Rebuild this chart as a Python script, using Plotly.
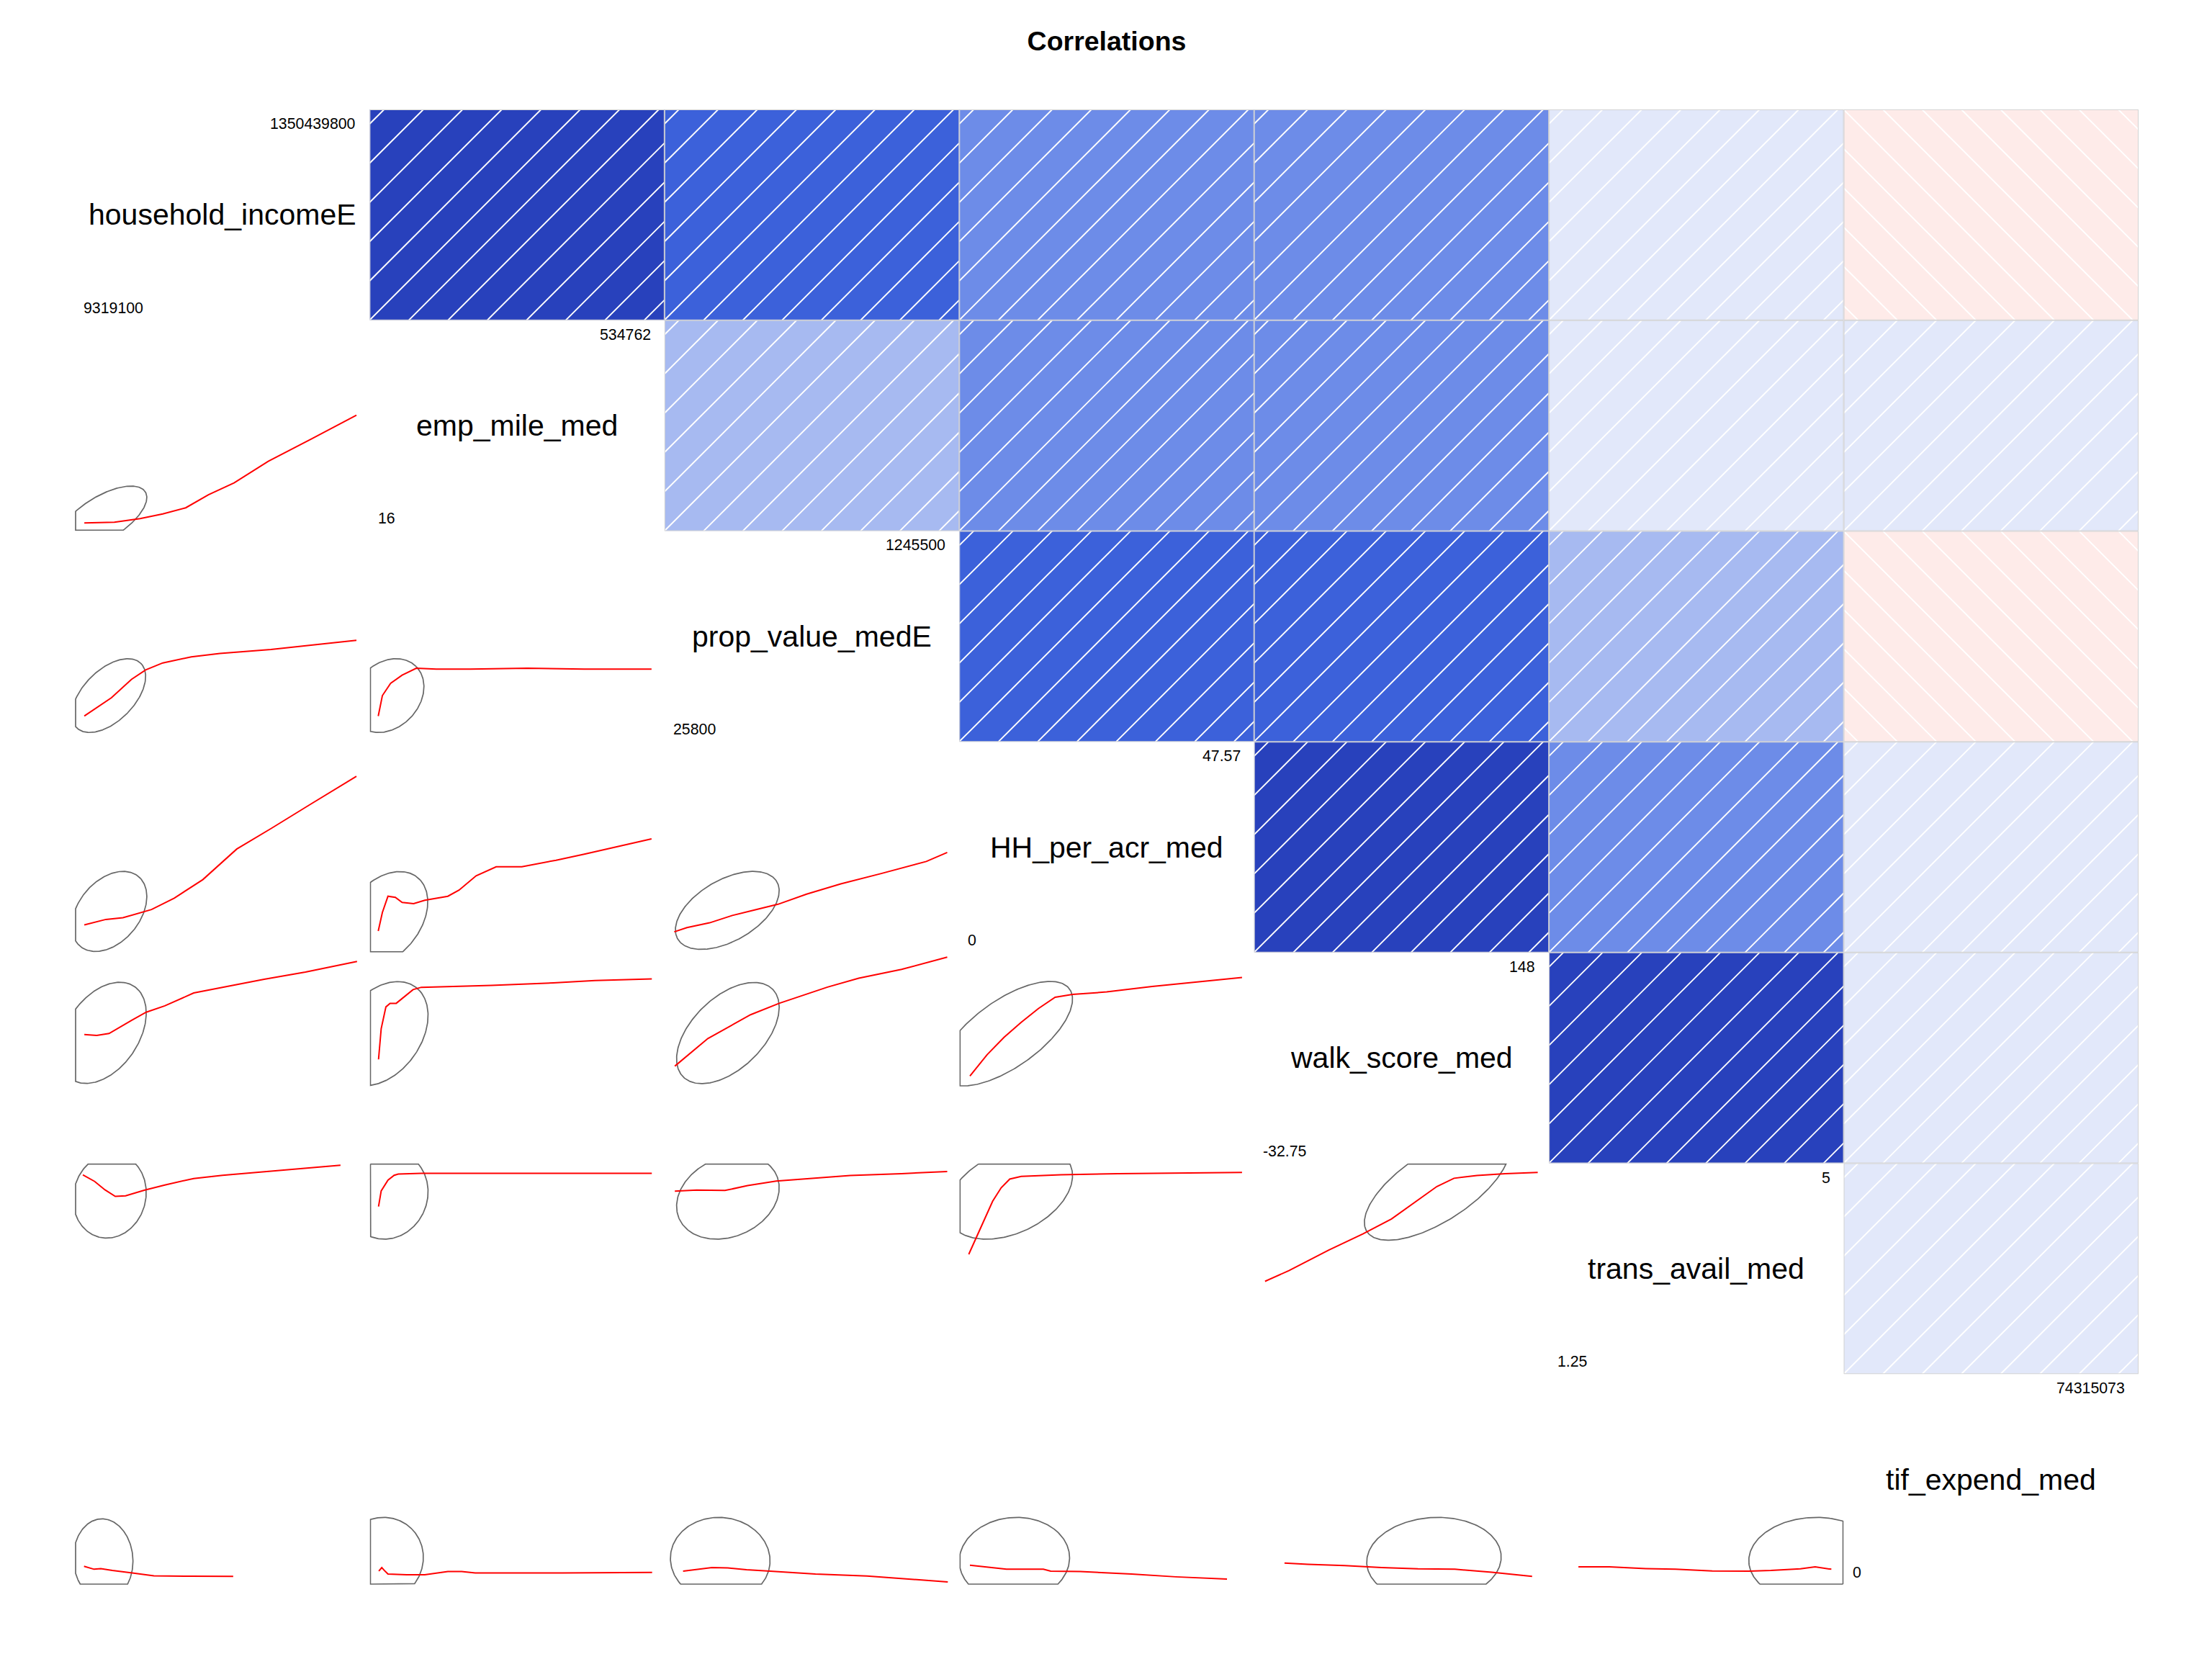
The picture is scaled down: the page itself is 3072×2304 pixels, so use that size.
import numpy as np
import plotly.graph_objects as go
from plotly.subplots import make_subplots

# ---------------- data ----------------
variables = ["household_incomeE", "emp_mile_med", "prop_value_medE", "HH_per_acr_med",
             "walk_score_med", "trans_avail_med", "tif_expend_med"]
var_max = ["1350439800", "534762", "1245500", "47.57", "148", "5", "74315073"]
var_min = ["9319100", "16", "25800", "0", "-32.75", "1.25", "0"]

# upper-triangle correlations (row i with columns i+1..7)
corr_row1 = [0.64, 0.52, 0.37, 0.39, 0.08, -0.04]
corr_row2 = [0.24, 0.36, 0.35, 0.07, 0.05]
corr_row3 = [0.50, 0.51, 0.22, -0.03]
corr_row4 = [0.66, 0.37, 0.04]
corr_row5 = [0.67, 0.06]
corr_row6 = [0.03]

# lower panels (row, col) in scaled panel units: data ellipse centre / spread
lower_panels = [(2, 1), (3, 1), (3, 2), (4, 1), (4, 2), (4, 3), (5, 1), (5, 2), (5, 3), (5, 4),
                (6, 1), (6, 2), (6, 3), (6, 4), (6, 5), (7, 1), (7, 2), (7, 3), (7, 4), (7, 5), (7, 6)]
ell_cx = [0.095, 0.115, 0.060, 0.117, 0.049, 0.213, 0.095, 0.040, 0.215, 0.161,
          0.118, 0.059, 0.215, 0.171, 0.620, 0.096, 0.040, 0.189, 0.187, 0.610, 0.900]
ell_cy = [0.062, 0.219, 0.219, 0.195, 0.159, 0.200, 0.619, 0.615, 0.618, 0.615,
          0.845, 0.850, 0.840, 0.860, 0.891, 0.120, 0.120, 0.120, 0.120, 0.120, 0.120]
ell_sx = [0.149, 0.125, 0.124, 0.127, 0.148, 0.176, 0.147, 0.158, 0.174, 0.223,
          0.124, 0.139, 0.174, 0.213, 0.246, 0.101, 0.142, 0.169, 0.187, 0.228, 0.222]
ell_sy = [0.151, 0.175, 0.175, 0.190, 0.225, 0.185, 0.240, 0.247, 0.240, 0.248,
          0.200, 0.210, 0.200, 0.220, 0.256, 0.193, 0.200, 0.200, 0.200, 0.200, 0.200]

# loess smooths (x, y) in scaled panel units
smooth_r2c1 = [(0.032, 0.038), (0.134, 0.042), (0.221, 0.059), (0.298, 0.081), (0.376, 0.110),
               (0.453, 0.172), (0.540, 0.228), (0.656, 0.331), (0.801, 0.436), (0.955, 0.549)]
smooth_r3c1 = [(0.032, 0.122), (0.124, 0.209), (0.192, 0.296), (0.240, 0.341), (0.298, 0.374),
               (0.395, 0.403), (0.492, 0.419), (0.665, 0.438), (0.801, 0.458), (0.955, 0.481)]
smooth_r3c2 = [(0.029, 0.122), (0.043, 0.219), (0.071, 0.277), (0.110, 0.316), (0.158, 0.349),
               (0.226, 0.345), (0.342, 0.345), (0.535, 0.349), (0.728, 0.345), (0.956, 0.345)]
smooth_r4c1 = [(0.032, 0.131), (0.105, 0.157), (0.163, 0.165), (0.260, 0.204), (0.337, 0.258),
               (0.434, 0.346), (0.549, 0.491), (0.665, 0.588), (0.801, 0.705), (0.955, 0.836)]
smooth_r4c2 = [(0.029, 0.102), (0.043, 0.190), (0.062, 0.267), (0.087, 0.262), (0.110, 0.238),
               (0.149, 0.232), (0.187, 0.248), (0.265, 0.267), (0.303, 0.296), (0.361, 0.364),
               (0.429, 0.407), (0.516, 0.407), (0.632, 0.438), (0.728, 0.467), (0.956, 0.539)]
smooth_r4c3 = [(0.033, 0.098), (0.076, 0.118), (0.153, 0.141), (0.230, 0.176), (0.308, 0.203),
               (0.385, 0.229), (0.482, 0.277), (0.598, 0.326), (0.733, 0.374), (0.888, 0.432),
               (0.959, 0.475)]
smooth_r5c1 = [(0.032, 0.611), (0.074, 0.607), (0.116, 0.616), (0.151, 0.645), (0.193, 0.679),
               (0.242, 0.717), (0.305, 0.747), (0.403, 0.808), (0.473, 0.827), (0.544, 0.844),
               (0.642, 0.873), (0.782, 0.907), (0.957, 0.958)]
smooth_r5c2 = [(0.030, 0.493), (0.039, 0.639), (0.055, 0.742), (0.069, 0.759), (0.090, 0.759),
               (0.119, 0.793), (0.147, 0.824), (0.175, 0.835), (0.273, 0.838), (0.413, 0.844),
               (0.623, 0.856), (0.764, 0.867), (0.957, 0.875)]
smooth_r5c3 = [(0.035, 0.461), (0.147, 0.592), (0.292, 0.705), (0.389, 0.759), (0.553, 0.836),
               (0.659, 0.878), (0.804, 0.920), (0.959, 0.978)]
smooth_r5c4 = [(0.036, 0.414), (0.094, 0.515), (0.152, 0.598), (0.210, 0.669), (0.268, 0.734),
               (0.325, 0.788), (0.384, 0.801), (0.500, 0.813), (0.654, 0.839), (0.809, 0.860),
               (0.959, 0.882)]
smooth_r6c1 = [(0.027, 0.945), (0.067, 0.914), (0.102, 0.874), (0.137, 0.843), (0.172, 0.846),
               (0.235, 0.872), (0.305, 0.897), (0.403, 0.928), (0.501, 0.943), (0.642, 0.960),
               (0.782, 0.975), (0.901, 0.991)]
smooth_r6c2 = [(0.030, 0.795), (0.039, 0.869), (0.062, 0.920), (0.083, 0.943), (0.097, 0.949),
               (0.175, 0.952), (0.343, 0.952), (0.957, 0.952)]
smooth_r6c3 = [(0.035, 0.868), (0.109, 0.873), (0.205, 0.871), (0.282, 0.894), (0.379, 0.916),
               (0.495, 0.929), (0.630, 0.942), (0.804, 0.951), (0.959, 0.961)]
smooth_r6c4 = [(0.032, 0.568), (0.055, 0.639), (0.084, 0.729), (0.113, 0.820), (0.142, 0.884),
               (0.171, 0.925), (0.210, 0.938), (0.345, 0.946), (0.538, 0.951), (0.731, 0.954),
               (0.959, 0.957)]
smooth_r6c5 = [(0.037, 0.440), (0.118, 0.491), (0.253, 0.588), (0.369, 0.665), (0.466, 0.736),
               (0.562, 0.832), (0.620, 0.890), (0.678, 0.929), (0.756, 0.942), (0.852, 0.951),
               (0.962, 0.957)]
smooth_r7c1 = [(0.031, 0.088), (0.065, 0.074), (0.088, 0.077), (0.127, 0.068), (0.190, 0.057),
               (0.268, 0.043), (0.392, 0.041), (0.537, 0.040)]
smooth_r7c2 = [(0.031, 0.065), (0.041, 0.082), (0.050, 0.068), (0.062, 0.051), (0.125, 0.048),
               (0.187, 0.048), (0.265, 0.063), (0.312, 0.063), (0.358, 0.056), (0.499, 0.056),
               (0.654, 0.056), (0.958, 0.059)]
smooth_r7c3 = [(0.063, 0.065), (0.122, 0.074), (0.161, 0.082), (0.215, 0.080), (0.278, 0.072),
               (0.358, 0.065), (0.512, 0.051), (0.687, 0.042), (0.961, 0.014)]
smooth_r7c4 = [(0.036, 0.093), (0.086, 0.085), (0.160, 0.074), (0.285, 0.074), (0.310, 0.065),
               (0.410, 0.063), (0.584, 0.051), (0.734, 0.038), (0.908, 0.027)]
smooth_r7c5 = [(0.103, 0.103), (0.182, 0.097), (0.307, 0.091), (0.432, 0.082), (0.556, 0.076),
               (0.681, 0.074), (0.806, 0.060), (0.943, 0.040)]
smooth_r7c6 = [(0.100, 0.085), (0.205, 0.085), (0.329, 0.077), (0.429, 0.074), (0.554, 0.066),
               (0.678, 0.065), (0.753, 0.068), (0.853, 0.076), (0.903, 0.085), (0.928, 0.080),
               (0.958, 0.074)]

smooths = [smooth_r2c1, smooth_r3c1, smooth_r3c2, smooth_r4c1, smooth_r4c2, smooth_r4c3,
           smooth_r5c1, smooth_r5c2, smooth_r5c3, smooth_r5c4, smooth_r6c1, smooth_r6c2,
           smooth_r6c3, smooth_r6c4, smooth_r6c5, smooth_r7c1, smooth_r7c2, smooth_r7c3,
           smooth_r7c4, smooth_r7c5, smooth_r7c6]

# ---------------- layout constants ----------------
N = len(variables)
PAGE_OFF = 8                       # default body margin of the html page
FIG_W, FIG_H = 3072 - PAGE_OFF, 2304 - PAGE_OFF
M_L, M_R, M_T, M_B = 96, 102, 144, 103
PW = (FIG_W - M_L - M_R) / N   # panel width px
PH = (FIG_H - M_T - M_B) / N   # panel height px
HATCH_STEP = 54.5              # px between hatch lines along an edge
HATCH_PHASE = 20.0
FONT = "Liberation Sans, Arial, sans-serif"

corr_rows = [corr_row1, corr_row2, corr_row3, corr_row4, corr_row5, corr_row6]
R = np.eye(N)
for i, row in enumerate(corr_rows):
    for k, v in enumerate(row):
        j = i + 1 + k
        R[i, j] = R[j, i] = v

# corrgram default shade palette: red, salmon, white, royalblue, navy (14 levels)
anchors = np.array([[255, 0, 0], [250, 128, 114], [255, 255, 255], [65, 105, 225], [0, 0, 128]], float)


def palette(n):
    cols = []
    for i in range(n):
        t = i / (n - 1) * 4
        a = min(int(t), 3)
        f = t - a
        c = anchors[a] + (anchors[a + 1] - anchors[a]) * f
        cols.append("rgb(%d,%d,%d)" % tuple(int(round(v)) for v in c))
    return cols


PAL = palette(14)


def shade_colour(r):
    idx = min(int((r + 1) / (2 / 14)), 13)
    return PAL[idx]


def clip_polygon(pts, x0, x1, y0, y1):
    """Sutherland-Hodgman clip of a closed polygon to a box."""
    def clip(poly, inside, inter):
        out = []
        n = len(poly)
        for k in range(n):
            cur, prev = poly[k], poly[k - 1]
            if inside(cur):
                if not inside(prev):
                    out.append(inter(prev, cur))
                out.append(cur)
            elif inside(prev):
                out.append(inter(prev, cur))
        return out

    def ix(xc):
        return lambda p, q: (xc, p[1] + (q[1] - p[1]) * (xc - p[0]) / (q[0] - p[0]))

    def iy(yc):
        return lambda p, q: (p[0] + (q[0] - p[0]) * (yc - p[1]) / (q[1] - p[1]), yc)

    poly = list(pts)
    poly = clip(poly, lambda p: p[0] >= x0, ix(x0))
    if poly:
        poly = clip(poly, lambda p: p[0] <= x1, ix(x1))
    if poly:
        poly = clip(poly, lambda p: p[1] >= y0, iy(y0))
    if poly:
        poly = clip(poly, lambda p: p[1] <= y1, iy(y1))
    return poly


fig = make_subplots(rows=N, cols=N, horizontal_spacing=0, vertical_spacing=0)


def ax(i, j, a):
    k = i * N + j + 1
    return a if k == 1 else f"{a}{k}"


for i in range(N):
    for j in range(N):
        fig.update_xaxes(range=[0, 1], visible=False, fixedrange=True, row=i + 1, col=j + 1)
        fig.update_yaxes(range=[0, 1], visible=False, fixedrange=True, row=i + 1, col=j + 1)

# ---------------- upper panels: shading ----------------
for i in range(N):
    for j in range(i + 1, N):
        r = R[i, j]
        xr, yr = ax(i, j, "x"), ax(i, j, "y")
        fig.add_shape(type="rect", xref=xr, yref=yr, x0=0, x1=1, y0=0, y1=1,
                      fillcolor=shade_colour(r), line_width=0, layer="below")
        hx, hy = [], []
        k0 = int(np.floor((-PH - PW) / HATCH_STEP)) - 1
        k1 = int(np.ceil((PW + PH) / HATCH_STEP)) + 1
        for k in range(k0, k1):
            x0 = HATCH_PHASE - PH + k * HATCH_STEP  # line: y_px = x_px - x0
            xs, xe = max(0.0, x0), min(PW, x0 + PH)
            if xe - xs < 1e-6:
                continue
            ys, ye = xs - x0, xe - x0
            if r < 0:
                ys, ye = PH - ys, PH - ye
            hx += [xs / PW, xe / PW, None]
            hy += [ys / PH, ye / PH, None]
        fig.add_trace(go.Scatter(x=hx, y=hy, mode="lines", line=dict(color="white", width=1.9),
                                 hoverinfo="skip", showlegend=False), row=i + 1, col=j + 1)
        fig.add_shape(type="rect", xref=xr, yref=yr, x0=0, x1=1, y0=0, y1=1,
                      fillcolor="rgba(0,0,0,0)", line=dict(color="#D3D3D3", width=2), layer="above")

# ---------------- lower panels: ellipse + smooth ----------------
theta = np.linspace(0, 2 * np.pi, 240)[:-1]
ex_eps, ey_eps = 1.0 / PW, 1.0 / PH
for n, (ri, ci) in enumerate(lower_panels):
    r = R[ri - 1, ci - 1]
    d = np.arccos(r)
    ex = ell_cx[n] + ell_sx[n] * np.cos(theta + d / 2)
    ey = ell_cy[n] + ell_sy[n] * np.cos(theta - d / 2)
    poly = clip_polygon(list(zip(ex, ey)), ex_eps, 1 - ex_eps, ey_eps, 1 - ey_eps)
    if poly:
        poly = poly + [poly[0]]
        fig.add_trace(go.Scatter(x=[p[0] for p in poly], y=[p[1] for p in poly], mode="lines",
                                 line=dict(color="#666666", width=1.7),
                                 hoverinfo="skip", showlegend=False), row=ri, col=ci)
    sx = [p[0] for p in smooths[n]]
    sy = [p[1] for p in smooths[n]]
    fig.add_trace(go.Scatter(x=sx, y=sy, mode="lines", line=dict(color="red", width=2),
                             hoverinfo="skip", showlegend=False), row=ri, col=ci)

# ---------------- diagonal: names and min/max ----------------
for i in range(N):
    xr, yr = ax(i, i, "x"), ax(i, i, "y")
    fig.add_annotation(xref=xr, yref=yr, x=0.5, y=0.5, text=variables[i], showarrow=False,
                       font=dict(family=FONT, size=41, color="black"),
                       xanchor="center", yanchor="middle")
    fig.add_annotation(xref=xr, yref=yr, x=1, y=1, text=var_max[i], showarrow=False,
                       font=dict(family=FONT, size=21.3, color="black"),
                       xanchor="right", yanchor="middle", xshift=-17, yshift=-20)
    fig.add_annotation(xref=xr, yref=yr, x=0, y=0, text=var_min[i], showarrow=False,
                       font=dict(family=FONT, size=21.3, color="black"),
                       xanchor="left", yanchor="middle", xshift=10, yshift=17)

fig.update_layout(
    width=FIG_W, height=FIG_H,
    margin=dict(l=M_L, r=M_R, t=M_T, b=M_B, autoexpand=False),
    paper_bgcolor="white", plot_bgcolor="rgba(0,0,0,0)",
    title=dict(text="<b>Correlations</b>", x=(1537 - PAGE_OFF) / FIG_W, xref="container",
               y=1 - (57 - PAGE_OFF) / FIG_H, yref="container",
               xanchor="center", yanchor="middle",
               font=dict(family=FONT, size=37.5, color="black")),
    showlegend=False,
)

fig.write_html("out.html")
